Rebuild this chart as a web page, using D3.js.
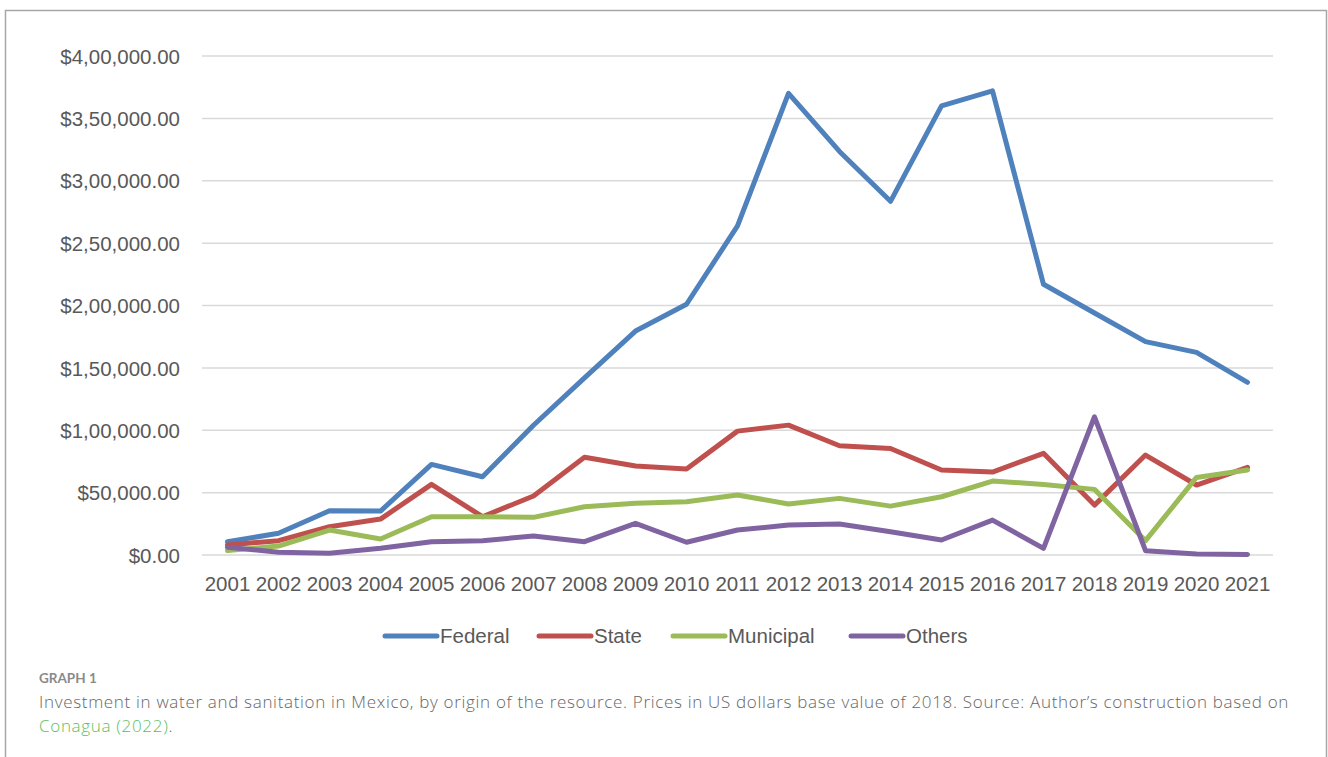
<!DOCTYPE html>
<html>
<head>
<meta charset="utf-8">
<script src="https://cdn.jsdelivr.net/npm/d3@7"></script>
<style>
  html, body { margin: 0; padding: 0; background: #fff; }
  svg { display: block; }
</style>
</head>
<body>
<svg id="chart" width="1328" height="757"></svg>
<script>
// Investment in water and sanitation by origin of the resource (USD, 2018 base)
const years = ["2001","2002","2003","2004","2005","2006","2007","2008","2009","2010","2011",
               "2012","2013","2014","2015","2016","2017","2018","2019","2020","2021"];
const federal   = [10600, 17400, 35500, 35200, 72600, 62700, 104000, 142000, 179500, 201000, 263800,
                   370000, 323500, 283500, 360000, 372000, 217000, 194000, 171000, 162400, 138400];
const state     = [8000, 11500, 22700, 28800, 56600, 30700, 47300, 78300, 71300, 68900, 99300,
                   104100, 87600, 85400, 68100, 66500, 81500, 40000, 80100, 56100, 70200];
const municipal = [3500, 7200, 20000, 12800, 30700, 30700, 30200, 38700, 41400, 42700, 48100,
                   40900, 45400, 39200, 46700, 59300, 56600, 52600, 11500, 62200, 68100];
const others    = [6200, 2200, 1400, 5400, 10700, 11500, 15200, 10700, 25400, 10200, 20000,
                   24000, 24800, 18700, 12000, 28000, 5300, 110800, 3500, 800, 500];
const yTicks = [0, 50000, 100000, 150000, 200000, 250000, 300000, 350000, 400000];
const yTickLabels = ["$0.00", "$50,000.00", "$1,00,000.00", "$1,50,000.00", "$2,00,000.00",
                     "$2,50,000.00", "$3,00,000.00", "$3,50,000.00", "$4,00,000.00"];
const seriesNames = ["Federal", "State", "Municipal", "Others"];
const seriesColors = ["#4F81BD", "#C0504D", "#9BBB59", "#8064A2"];
const seriesValues = [federal, state, municipal, others];

const svg = d3.select("#chart");
const axisFont = "'Liberation Sans', Arial, sans-serif";
const axisSize = 20.5;
const textGray = "#595959";

// frame around the figure
svg.append("path")
  .attr("d", "M5.5,760 V10.5 H1326.5 V760")
  .attr("fill", "none")
  .attr("stroke", "#a6a6a6")
  .attr("stroke-width", 1.5);

const plot = { left: 202, right: 1273, top: 56, bottom: 555 };

const x = d3.scaleBand().domain(years).range([plot.left, plot.right]);
const y = d3.scaleLinear().domain([0, 400000]).range([plot.bottom, plot.top]);

// horizontal gridlines
svg.append("g")
  .selectAll("line")
  .data(yTicks)
  .join("line")
  .attr("x1", plot.left).attr("x2", plot.right)
  .attr("y1", d => y(d)).attr("y2", d => y(d))
  .attr("stroke", "#d9d9d9")
  .attr("stroke-width", 1.5);

// y-axis labels
const yAxis = d3.axisLeft(y)
  .tickValues(yTicks)
  .tickSize(0)
  .tickPadding(0)
  .tickFormat((d, i) => yTickLabels[i]);
const gy = svg.append("g").attr("transform", `translate(${plot.left - 22},0)`).call(yAxis);
gy.select(".domain").remove();
gy.selectAll("text")
  .attr("font-family", axisFont)
  .attr("font-size", axisSize)
  .attr("fill", textGray)
  .attr("dy", "0.35em");

// x-axis labels
const xAxis = d3.axisBottom(x).tickSize(0).tickPadding(0);
const gx = svg.append("g").attr("transform", `translate(0,${plot.bottom + 21})`).call(xAxis);
gx.select(".domain").remove();
gx.selectAll("text")
  .attr("font-family", axisFont)
  .attr("font-size", axisSize)
  .attr("fill", textGray)
  .attr("dy", "0.71em");

// series lines
const line = d3.line()
  .x((d, i) => x(years[i]) + x.bandwidth() / 2)
  .y(d => y(d));

svg.append("g")
  .selectAll("path")
  .data(seriesValues)
  .join("path")
  .attr("d", d => line(d))
  .attr("fill", "none")
  .attr("stroke", (d, i) => seriesColors[i])
  .attr("stroke-width", 5)
  .attr("stroke-linejoin", "round")
  .attr("stroke-linecap", "round");

// legend
const legendX = [385, 539, 673, 851];
const legendY = 636;
const legend = svg.append("g");
seriesNames.forEach((name, i) => {
  legend.append("line")
    .attr("x1", legendX[i]).attr("x2", legendX[i] + 52)
    .attr("y1", legendY).attr("y2", legendY)
    .attr("stroke", seriesColors[i])
    .attr("stroke-width", 5)
    .attr("stroke-linecap", "round");
  legend.append("text")
    .attr("x", legendX[i] + 55)
    .attr("y", legendY)
    .attr("dy", "0.35em")
    .attr("font-family", axisFont)
    .attr("font-size", axisSize)
    .attr("fill", textGray)
    .text(name);
});

// caption
const capFont = "'Open Sans', Lato, sans-serif";
svg.append("text")
  .attr("x", 39).attr("y", 683)
  .attr("font-family", "Lato, sans-serif")
  .attr("font-size", 13.5)
  .attr("font-weight", 700)
  .attr("fill", "#8a8a8a")
  .text("GRAPH 1");

svg.append("text")
  .attr("x", 39).attr("y", 708)
  .attr("font-family", capFont)
  .attr("font-size", 17)
  .attr("letter-spacing", 0.68)
  .attr("font-weight", 300)
  .attr("fill", "#666666")
  .text("Investment in water and sanitation in Mexico, by origin of the resource. Prices in US dollars base value of 2018. Source: Author\u2019s construction based on");

const cap2 = svg.append("text")
  .attr("x", 39).attr("y", 732)
  .attr("font-family", capFont)
  .attr("font-size", 17)
  .attr("letter-spacing", 0.68)
  .attr("font-weight", 300);
cap2.append("tspan").attr("fill", "#5cbf5c").text("Conagua (2022)");
cap2.append("tspan").attr("fill", "#666666").text(".");
</script>
</body>
</html>
